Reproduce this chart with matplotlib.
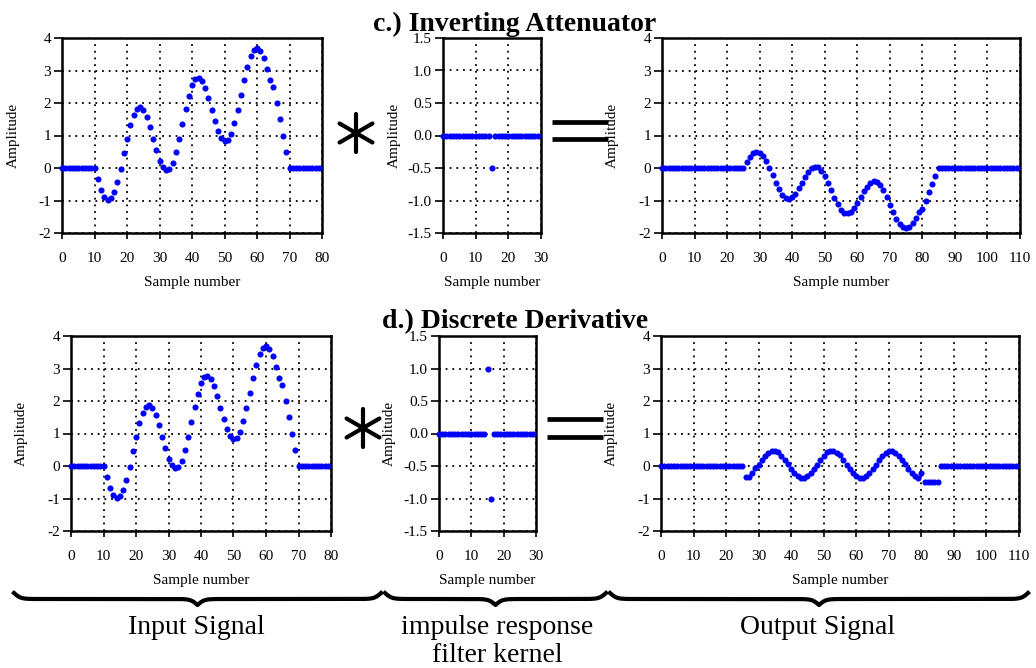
# Convolution examples: inverting attenuator and discrete derivative
import numpy as np
import matplotlib
matplotlib.use('Agg')
import matplotlib.pyplot as plt
from matplotlib.ticker import FormatStrFormatter

# ---- data ----
input_signal = [0, 0, 0, 0, 0, 0, 0, 0, 0, 0, 0,
                -0.35, -0.68, -0.90, -0.97, -0.93, -0.73, -0.42, -0.02, 0.45, 0.90,
                1.32, 1.64, 1.83, 1.88, 1.80, 1.58, 1.26, 0.90, 0.54, 0.23,
                0.02, -0.07, -0.03, 0.16, 0.48, 0.90, 1.35, 1.82, 2.22, 2.55,
                2.74, 2.78, 2.69, 2.47, 2.16, 1.80, 1.44, 1.13, 0.91, 0.82,
                0.86, 1.06, 1.38, 1.79, 2.25, 2.71, 3.12, 3.44, 3.63, 3.68,
                3.60, 3.37, 3.06, 2.70, 2.50, 2.00, 1.50, 1.00, 0.50,
                0, 0, 0, 0, 0, 0, 0, 0, 0, 0]

kernel_atten = [0] * 15 + [-0.5] + [0] * 14
kernel_deriv = [0] * 15 + [1.0, -1.0] + [0] * 13

output_atten = [0] * 26 + [
    0.18, 0.34, 0.45, 0.49, 0.47, 0.37, 0.21, 0.01, -0.23, -0.45,
    -0.66, -0.82, -0.92, -0.94, -0.90, -0.79, -0.63, -0.45, -0.27, -0.12,
    -0.01, 0.04, 0.02, -0.08, -0.24, -0.45, -0.68, -0.91, -1.11, -1.28,
    -1.37, -1.39, -1.35, -1.24, -1.08, -0.90, -0.72, -0.57, -0.46, -0.41,
    -0.43, -0.53, -0.69, -0.90, -1.13, -1.36, -1.56, -1.72, -1.82, -1.84,
    -1.80, -1.69, -1.53, -1.35, -1.25, -1.00, -0.75, -0.50, -0.25] + [0] * 25

output_deriv = [0] * 26 + [
    -0.35, -0.33, -0.22, -0.07, 0.04, 0.20, 0.31, 0.40, 0.47, 0.45,
    0.42, 0.32, 0.19, 0.05, -0.08, -0.22, -0.32, -0.36, -0.36, -0.31,
    -0.21, -0.09, 0.04, 0.19, 0.32, 0.42, 0.45, 0.47, 0.40, 0.33,
    0.19, 0.04, -0.09, -0.22, -0.31, -0.36, -0.36, -0.31, -0.22, -0.09,
    0.04, 0.20, 0.32, 0.41, 0.46, 0.46, 0.41, 0.32, 0.19, 0.05,
    -0.08, -0.23, -0.31, -0.36, -0.20, -0.50, -0.50, -0.50, -0.50, -0.50] + [0] * 24

plt.rcParams['font.family'] = 'Liberation Serif'
plt.rcParams['axes.unicode_minus'] = False

W, H = 1036, 668
fig = plt.figure(figsize=(W / 100, H / 100), dpi=100)


def px_axes(l, t, r, b):
    return fig.add_axes([l / W, 1 - b / H, (r - l) / W, (b - t) / H])


def panel(box, y, xmax, ylim, ystep, yfmt, ylab_x):
    ax = px_axes(*box)
    ax.plot(np.arange(len(y)), y, 'o', color='#0000ff', ms=4.4, mec='none', clip_on=False, zorder=3)
    ax.set_xlim(0, xmax)
    ax.set_ylim(*ylim)
    ax.set_xticks(np.arange(0, xmax + 1, 10))
    ax.set_yticks(np.arange(ylim[0], ylim[1] + 1e-9, ystep))
    ax.yaxis.set_major_formatter(FormatStrFormatter(yfmt))
    ax.grid(True, color='black', linestyle=(0, (1, 2.7)), linewidth=1.3)
    for s in ax.spines.values():
        s.set_linewidth(1.8)
    ax.tick_params(axis='x', length=4, width=1.2, pad=10, labelsize=11)
    ax.tick_params(axis='y', length=6, width=1.2, pad=2, labelsize=11)
    ax.set_xlabel('Sample number', fontsize=11, va='center')
    ax.xaxis.set_label_coords(0.5, -0.253)
    ax.set_ylabel('Amplitude', fontsize=11, va='center')
    ax.yaxis.set_label_coords(ylab_x, 0.5)
    return ax


panel((62, 38, 322, 233), input_signal, 80, (-2, 4), 1, '%d', -0.188)
panel((443, 38, 541, 233), kernel_atten, 30, (-1.5, 1.5), 0.5, '%.1f', -0.50)
panel((662, 38, 1020, 233), output_atten, 110, (-2, 4), 1, '%d', -0.140)
panel((71, 336, 331, 531), input_signal, 80, (-2, 4), 1, '%d', -0.192)
panel((439, 336, 536, 531), kernel_deriv, 30, (-1.5, 1.5), 0.5, '%.1f', -0.515)
panel((661, 336, 1019, 531), output_deriv, 110, (-2, 4), 1, '%d', -0.140)

# overlay in pixel coordinates for titles, symbols and braces
ov = fig.add_axes([0, 0, 1, 1], zorder=5)
ov.set_xlim(0, W)
ov.set_ylim(H, 0)
ov.axis('off')

ov.text(515, 31, 'c.) Inverting Attenuator', fontsize=20, fontweight='bold', ha='center', va='baseline')
ov.text(515, 328, 'd.) Discrete Derivative', fontsize=20, fontweight='bold', ha='center', va='baseline')


def asterisk(cx, cy, r=19):
    for ang in (90, 30, 150):
        a = np.deg2rad(ang)
        ov.plot([cx - r * np.cos(a), cx + r * np.cos(a)], [cy - r * np.sin(a), cy + r * np.sin(a)],
                color='black', lw=3, solid_capstyle='round')


def equals(x0, x1, y0, y1):
    for yy in (y0, y1):
        ov.plot([x0, x1], [yy, yy], color='black', lw=3.4, solid_capstyle='butt')


asterisk(356, 133)
asterisk(363, 428)
equals(552, 608, 122, 139)
equals(547, 603, 419, 437)


def brace(x0, x1, ytip, amp=12, beta=0.3):
    n = 301
    xs = np.linspace(x0, x1, 2 * n - 1)
    half = xs[:n]
    v = 1 / (1 + np.exp(-beta * (half - half[0]))) + 1 / (1 + np.exp(-beta * (half - half[-1])))
    v = np.concatenate([v, v[-2::-1]])
    ov.plot(xs, ytip + amp * (v - 0.5), color='black', lw=3)


brace(14, 381, 593)
brace(385, 606, 593)
brace(610, 1028, 593)

ov.text(196, 634, 'Input Signal', fontsize=20, ha='center', va='baseline')
ov.text(497, 634, 'impulse response', fontsize=20, ha='center', va='baseline')
ov.text(497, 662, 'filter kernel', fontsize=20, ha='center', va='baseline')
ov.text(818, 634, 'Output Signal', fontsize=20, ha='center', va='baseline')

fig.savefig('out.png', dpi=100)
